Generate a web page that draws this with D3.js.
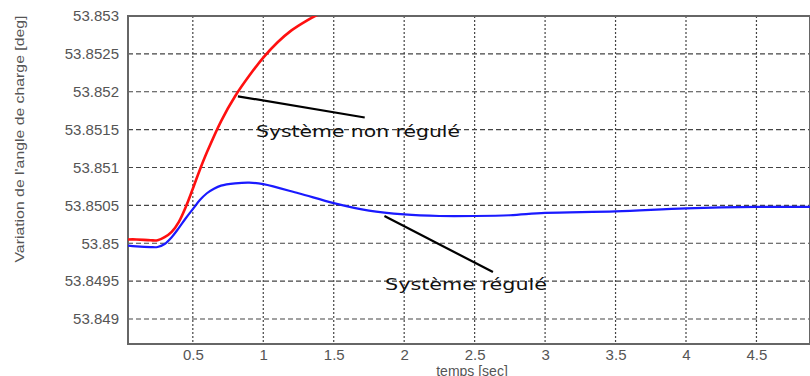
<!DOCTYPE html>
<html>
<head>
<meta charset="utf-8">
<script src="https://cdn.jsdelivr.net/npm/d3@7"></script>
<style>
  body { margin: 0; background: #fff; }
  svg { display: block; }
</style>
</head>
<body>
<div id="chart"></div>
<script>
// Data
const times = [0.04, 0.1, 0.2, 0.25, 0.3, 0.35, 0.4, 0.45, 0.5, 0.55, 0.6, 0.7, 0.8, 0.9, 1.0, 1.1, 1.2, 1.3, 1.4, 1.5];
const nonRegule = [53.85005, 53.85005, 53.85004, 53.85004, 53.85008, 53.85015, 53.85028, 53.85048, 53.85072, 53.85097, 53.85120, 53.85161, 53.85194, 53.85221, 53.85245, 53.85265, 53.85281, 53.85293, 53.85303, 53.85311];

const timesReg = [0.04, 0.1, 0.2, 0.25, 0.3, 0.35, 0.4, 0.45, 0.5, 0.55, 0.6, 0.65, 0.7, 0.8, 0.9, 1.0, 1.25, 1.5, 1.75, 2.0, 2.25, 2.5, 2.75, 3.0, 3.5, 4.0, 4.5, 4.88];
const regule = [53.84997, 53.84996, 53.84995, 53.84995, 53.84999, 53.85008, 53.85020, 53.85033, 53.85045, 53.85057, 53.85066, 53.85072, 53.85076, 53.85079, 53.85080, 53.85078, 53.85066, 53.85053, 53.85043, 53.85038, 53.85036, 53.85036, 53.85037, 53.85040, 53.85042, 53.85046, 53.85048, 53.85048];

const xTicks = [0.5, 1, 1.5, 2, 2.5, 3, 3.5, 4, 4.5];
const yTicks = [53.849, 53.8495, 53.85, 53.8505, 53.851, 53.8515, 53.852, 53.8525, 53.853];
const yTickLabels = ["53.849", "53.8495", "53.85", "53.8505", "53.851", "53.8515", "53.852", "53.8525", "53.853"];

const width = 810, height = 376;
const plot = { left: 128, right: 810, top: 16, bottom: 344 };

const x = d3.scaleLinear().domain([0.04, 4.88]).range([plot.left, plot.right]);
const y = d3.scaleLinear().domain([53.84867, 53.853]).range([plot.bottom, plot.top]);

const svg = d3.select("#chart").append("svg")
    .attr("width", width)
    .attr("height", height);

svg.append("clipPath").attr("id", "clip")
  .append("rect")
    .attr("x", plot.left).attr("y", plot.top)
    .attr("width", plot.right - plot.left).attr("height", plot.bottom - plot.top);

// Grid
svg.append("g")
  .selectAll("line")
  .data(yTicks)
  .join("line")
    .attr("x1", plot.left).attr("x2", plot.right)
    .attr("y1", d => y(d)).attr("y2", d => y(d))
    .attr("stroke", "#444").attr("stroke-width", 1.2)
    .attr("stroke-dasharray", "5,3");

svg.append("g")
  .selectAll("line")
  .data(xTicks)
  .join("line")
    .attr("x1", d => x(d)).attr("x2", d => x(d))
    .attr("y1", plot.top).attr("y2", plot.bottom)
    .attr("stroke", "#444").attr("stroke-width", 1.2)
    .attr("stroke-dasharray", "2,2");

// Axes
const xAxis = svg.append("g")
    .attr("transform", `translate(0,${plot.bottom})`)
    .call(d3.axisBottom(x).tickValues(xTicks).tickSize(0).tickPadding(5).tickFormat(d3.format("")));
const yAxis = svg.append("g")
    .attr("transform", `translate(${plot.left},0)`)
    .call(d3.axisLeft(y).tickValues(yTicks).tickSize(0).tickPadding(9).tickFormat((d, i) => yTickLabels[i]));

[xAxis, yAxis].forEach(a => {
  a.select(".domain").remove();
  a.selectAll("text")
    .attr("fill", "#555")
    .style("font-family", "Liberation Sans, Arial, sans-serif")
    .style("font-size", "15px");
});

// Frame
svg.append("rect")
    .attr("x", plot.left).attr("y", plot.top)
    .attr("width", plot.right - plot.left).attr("height", plot.bottom - plot.top)
    .attr("fill", "none").attr("stroke", "#666").attr("stroke-width", 2);

// Curves
const line = d3.line().curve(d3.curveCatmullRom.alpha(0.5)).x(d => x(d[0])).y(d => y(d[1]));

svg.append("path")
    .datum(times.map((t, i) => [t, nonRegule[i]]))
    .attr("clip-path", "url(#clip)")
    .attr("fill", "none").attr("stroke", "#ff1010").attr("stroke-width", 2.6)
    .attr("d", line);

svg.append("path")
    .datum(timesReg.map((t, i) => [t, regule[i]]))
    .attr("clip-path", "url(#clip)")
    .attr("fill", "none").attr("stroke", "#1a1aff").attr("stroke-width", 2.2)
    .attr("d", line);

// Annotations
const notes = [
  { text: "Système non régulé", from: [0.82, 53.85194], to: [1.72, 53.85166], tx: 256, ty: 137, len: 204 },
  { text: "Système régulé", from: [1.86, 53.85036], to: [2.63, 53.84962], tx: 385, ty: 290, len: 162 }
];
const ann = svg.append("g");
notes.forEach(n => {
  ann.append("line")
    .attr("x1", x(n.from[0])).attr("y1", y(n.from[1]))
    .attr("x2", x(n.to[0])).attr("y2", y(n.to[1]))
    .attr("stroke", "#000").attr("stroke-width", 2.2);
  ann.append("text")
    .attr("x", n.tx).attr("y", n.ty)
    .attr("textLength", n.len).attr("lengthAdjust", "spacingAndGlyphs")
    .style("font-family", "DejaVu Sans, sans-serif")
    .style("font-size", "16px")
    .attr("fill", "#111")
    .text(n.text);
});

// Axis labels
svg.append("text")
    .attr("transform", `translate(24,${(plot.top + 262) / 2}) rotate(-90)`)
    .attr("text-anchor", "middle")
    .attr("textLength", 247).attr("lengthAdjust", "spacingAndGlyphs")
    .style("font-family", "Liberation Sans, Arial, sans-serif")
    .style("font-size", "13px")
    .attr("fill", "#555")
    .text("Variation de l'angle de charge [deg]");

svg.append("text")
    .attr("x", 472).attr("y", 376)
    .attr("text-anchor", "middle")
    .style("font-family", "Liberation Sans, Arial, sans-serif")
    .style("font-size", "14px")
    .attr("fill", "#555")
    .text("temps [sec]");
</script>
</body>
</html>
